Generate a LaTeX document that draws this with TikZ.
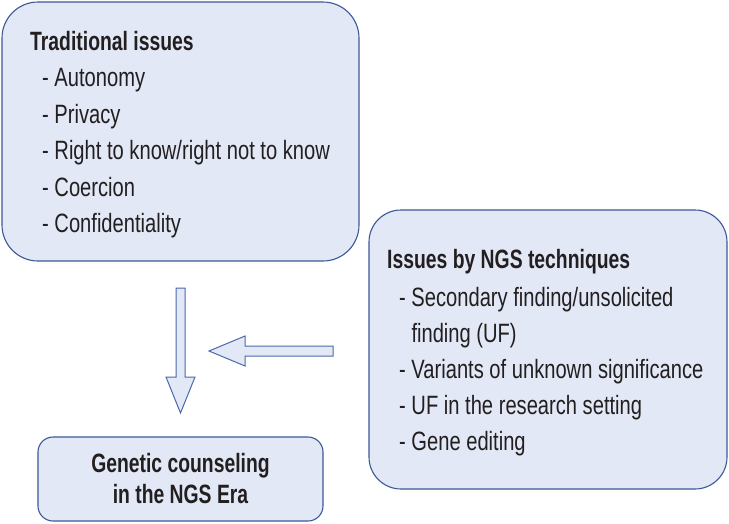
\documentclass[tikz,border=0pt]{standalone}
\usepackage{fontspec}
\setmainfont{Liberation Sans}[FakeStretch=0.76, BoldFeatures={FakeStretch=0.73}]
\usepackage{xcolor}
\usepackage{tikz}
\usetikzlibrary{positioning}

\definecolor{boxfill}{HTML}{E2E8F5}
\definecolor{boxline}{HTML}{3B5897}
\definecolor{arrowline}{HTML}{4A69AA}
\definecolor{inktext}{HTML}{231F20}

\begin{document}
\begin{tikzpicture}[
    x=1pt, y=-1pt,
    issuebox/.style={draw=boxline, fill=boxfill, line width=1.1pt, rounded corners=#1, inner sep=0pt},
    issuebox/.default=36pt,
    headtext/.style={anchor=base west, inner sep=0pt, text=inktext, font=\fontsize{26.5}{31}\selectfont\bfseries},
    itemtext/.style={anchor=base west, inner sep=0pt, text=inktext, font=\fontsize{26.5}{31}\selectfont},
    blockarrow/.style={draw=arrowline, fill=boxfill, line width=1pt, line join=miter},
    scale=1
]
\useasboundingbox (0,0) rectangle (729,523);

% Cajas
\node[issuebox, minimum width=357pt, minimum height=259pt] (trad) at (180.5,131.5) {};
\node[issuebox=32pt, minimum width=358pt, minimum height=279pt] (ngs) at (548,349.5) {};
\node[issuebox=15pt, minimum width=285pt, minimum height=84pt, align=center, text=inktext,
      font=\fontsize{26.5}{31}\selectfont\bfseries] (era) at (180.5,479) {Genetic counseling\\in the NGS Era};

% Temas tradicionales
\node[headtext] (tradhead) at (30,50) {Traditional issues};
\node[itemtext] (trad1) at (42,86.5) {- Autonomy};
\node[itemtext] (trad2) at (42,123) {- Privacy};
\node[itemtext] (trad3) at (42,159.5) {- Right to know/right not to know};
\node[itemtext] (trad4) at (42,196) {- Coercion};
\node[itemtext] (trad5) at (42,232.5) {- Confidentiality};

% Temas por NGS
\node[headtext] (ngshead) at (387,268) {Issues by NGS techniques};
\node[itemtext] (ngs1) at (399,306) {- Secondary finding/unsolicited};
\node[itemtext] (ngs1b) at (399,342) {\phantom{- }finding (UF)};
\node[itemtext] (ngs2) at (399,378) {- Variants of unknown significance};
\node[itemtext] (ngs3) at (399,414) {- UF in the research setting};
\node[itemtext] (ngs4) at (399,450) {- Gene editing};

% Flechas
\coordinate (dn) at (180.5,288);
\draw[blockarrow] (dn) ++(-4.5,0) -- ++(9,0) -- ++(0,89) -- ++(10,0) -- ++(-14.5,36)
    -- ++(-14.5,-36) -- ++(10,0) -- cycle;
\coordinate (lf) at (333,351);
\draw[blockarrow] (lf) ++(0,-5) -- ++(0,10) -- ++(-88,0) -- ++(0,10) -- ++(-36,-15)
    -- ++(36,-15) -- ++(0,10) -- cycle;

\end{tikzpicture}
\end{document}
